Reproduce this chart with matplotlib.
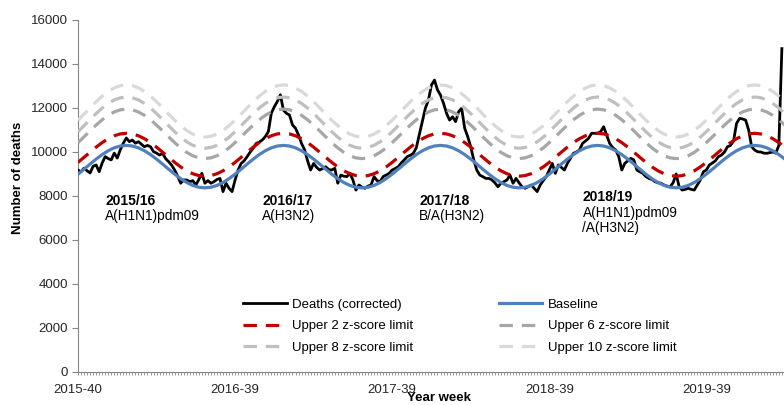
import matplotlib
matplotlib.use("Agg")
import matplotlib.pyplot as plt
from matplotlib.ticker import MultipleLocator

plt.rcParams['font.family'] = ['Liberation Sans', 'DejaVu Sans']

# ---------------- data ----------------
# weekly index 0 = 2015-40
deaths = [
    9180, 9100, 9270, 9150, 9045, 9350, 9410, 9105, 9500, 9790,
    9700, 9640, 9950, 9725, 10100, 10400, 10640, 10470, 10545, 10400,
    10470, 10350, 10240, 10300, 10240, 10015, 9950, 9860, 9940, 9700,
    9560, 9400, 9180, 8900, 8580, 8730, 8730, 8650, 8700, 8500,
    8750, 9030, 8580, 8700, 8580, 8650, 8750, 8800, 8200, 8580,
    8350, 8200, 8730, 9180, 9480, 9600, 9790, 10000, 10170, 10390,
    10450, 10545, 10700, 10920, 11760, 12060, 12300, 12600, 11900, 11760,
    11680, 11230, 11080, 10770, 10390, 10100, 9600, 9180, 9480, 9300,
    9180, 9250, 9330, 9200, 9180, 9260, 8580, 8950, 8900, 8880,
    9030, 8730, 8270, 8500, 8400, 8350, 8450, 8500, 8880, 8700,
    8650, 8880, 8950, 9030, 9180, 9250, 9330, 9500, 9640, 9790,
    9850, 9940, 10200, 10800, 11400, 12000, 12360, 13045, 13270, 12820,
    12590, 12210, 11760, 11450, 11600, 11380, 11830, 11990, 11080, 10700,
    10240, 9640, 9180, 8950, 8880, 8800, 8800, 8730, 8600, 8420,
    8580, 8650, 8730, 8950, 8580, 8800, 8600, 8420, 8350, 8420,
    8500, 8350, 8200, 8500, 8700, 8880, 9180, 9480, 9030, 9410,
    9300, 9180, 9480, 9710, 9940, 10000, 10090, 10390, 10500, 10620,
    10850, 10850, 10850, 10920, 11150, 10770, 10390, 10200, 10090, 9790,
    9180, 9480, 9600, 9710, 9640, 9180, 9100, 9030, 8880, 8800,
    8750, 8650, 8600, 8580, 8500, 8450, 8420, 8600, 9000, 8420,
    8270, 8300, 8350, 8300, 8270, 8500, 8730, 9100, 9180, 9410,
    9500, 9600, 9790, 9860, 10000, 10240, 10300, 10500, 11300, 11530,
    11500, 11450, 11000, 10240, 10090, 10010, 10000, 9950, 9940, 9970,
    10000, 9950, 10300, 14700,
]
weeks = list(range(len(deaths)))

# smooth series sampled every second week (index 0, 2, 4, ...)
smooth_weeks = list(range(0, 236, 2))
baseline = [
    8993, 9219, 9451, 9677, 9883, 10057, 10190, 10272, 10300, 10272, 10190, 10057, 9883,
    9677, 9451, 9219, 8993, 8787, 8613, 8480, 8398, 8370, 8398, 8480, 8613, 8787,
    8993, 9219, 9451, 9677, 9883, 10057, 10190, 10272, 10300, 10272, 10190, 10057, 9883,
    9677, 9451, 9219, 8993, 8787, 8613, 8480, 8398, 8370, 8398, 8480, 8613, 8787,
    8993, 9219, 9451, 9677, 9883, 10057, 10190, 10272, 10300, 10272, 10190, 10057, 9883,
    9677, 9451, 9219, 8993, 8787, 8613, 8480, 8398, 8370, 8398, 8480, 8613, 8787,
    8993, 9219, 9451, 9677, 9883, 10057, 10190, 10272, 10300, 10272, 10190, 10057, 9883,
    9677, 9451, 9219, 8993, 8787, 8613, 8480, 8398, 8370, 8398, 8480, 8613, 8787,
    8993, 9219, 9451, 9677, 9883, 10057, 10190, 10272, 10300, 10272, 10190, 10057, 9883,
    9677,
]
upper2 = [
    9529, 9758, 9992, 10221, 10429, 10605, 10738, 10822, 10850, 10822, 10738, 10605, 10429,
    10221, 9992, 9758, 9529, 9321, 9145, 9012, 8928, 8900, 8928, 9012, 9145, 9321,
    9529, 9758, 9992, 10221, 10429, 10605, 10738, 10822, 10850, 10822, 10738, 10605, 10429,
    10221, 9992, 9758, 9529, 9321, 9145, 9012, 8928, 8900, 8928, 9012, 9145, 9321,
    9529, 9758, 9992, 10221, 10429, 10605, 10738, 10822, 10850, 10822, 10738, 10605, 10429,
    10221, 9992, 9758, 9529, 9321, 9145, 9012, 8928, 8900, 8928, 9012, 9145, 9321,
    9529, 9758, 9992, 10221, 10429, 10605, 10738, 10822, 10850, 10822, 10738, 10605, 10429,
    10221, 9992, 9758, 9529, 9321, 9145, 9012, 8928, 8900, 8928, 9012, 9145, 9321,
    9529, 9758, 9992, 10221, 10429, 10605, 10738, 10822, 10850, 10822, 10738, 10605, 10429,
    10221,
]
upper6 = [
    10426, 10689, 10961, 11224, 11464, 11667, 11821, 11917, 11950, 11917, 11821, 11667, 11464,
    11224, 10961, 10689, 10426, 10186, 9983, 9829, 9733, 9700, 9733, 9829, 9983, 10186,
    10426, 10689, 10961, 11224, 11464, 11667, 11821, 11917, 11950, 11917, 11821, 11667, 11464,
    11224, 10961, 10689, 10426, 10186, 9983, 9829, 9733, 9700, 9733, 9829, 9983, 10186,
    10426, 10689, 10961, 11224, 11464, 11667, 11821, 11917, 11950, 11917, 11821, 11667, 11464,
    11224, 10961, 10689, 10426, 10186, 9983, 9829, 9733, 9700, 9733, 9829, 9983, 10186,
    10426, 10689, 10961, 11224, 11464, 11667, 11821, 11917, 11950, 11917, 11821, 11667, 11464,
    11224, 10961, 10689, 10426, 10186, 9983, 9829, 9733, 9700, 9733, 9829, 9983, 10186,
    10426, 10689, 10961, 11224, 11464, 11667, 11821, 11917, 11950, 11917, 11821, 11667, 11464,
    11224,
]
upper8 = [
    10922, 11195, 11475, 11748, 11997, 12207, 12367, 12466, 12500, 12466, 12367, 12207, 11997,
    11748, 11475, 11195, 10922, 10673, 10463, 10303, 10204, 10170, 10204, 10303, 10463, 10673,
    10922, 11195, 11475, 11748, 11997, 12207, 12367, 12466, 12500, 12466, 12367, 12207, 11997,
    11748, 11475, 11195, 10922, 10673, 10463, 10303, 10204, 10170, 10204, 10303, 10463, 10673,
    10922, 11195, 11475, 11748, 11997, 12207, 12367, 12466, 12500, 12466, 12367, 12207, 11997,
    11748, 11475, 11195, 10922, 10673, 10463, 10303, 10204, 10170, 10204, 10303, 10463, 10673,
    10922, 11195, 11475, 11748, 11997, 12207, 12367, 12466, 12500, 12466, 12367, 12207, 11997,
    11748, 11475, 11195, 10922, 10673, 10463, 10303, 10204, 10170, 10204, 10303, 10463, 10673,
    10922, 11195, 11475, 11748, 11997, 12207, 12367, 12466, 12500, 12466, 12367, 12207, 11997,
    11748,
]
upper10 = [
    11445, 11722, 12008, 12285, 12538, 12752, 12914, 13016, 13050, 13016, 12914, 12752, 12538,
    12285, 12008, 11722, 11445, 11196, 10978, 10814, 10716, 10680, 10716, 10814, 10978, 11196,
    11445, 11722, 12008, 12285, 12538, 12752, 12914, 13016, 13050, 13016, 12914, 12752, 12538,
    12285, 12008, 11722, 11445, 11196, 10978, 10814, 10716, 10680, 10716, 10814, 10978, 11196,
    11445, 11722, 12008, 12285, 12538, 12752, 12914, 13016, 13050, 13016, 12914, 12752, 12538,
    12285, 12008, 11722, 11445, 11196, 10978, 10814, 10716, 10680, 10716, 10814, 10978, 11196,
    11445, 11722, 12008, 12285, 12538, 12752, 12914, 13016, 13050, 13016, 12914, 12752, 12538,
    12285, 12008, 11722, 11445, 11196, 10978, 10814, 10716, 10680, 10716, 10814, 10978, 11196,
    11445, 11722, 12008, 12285, 12538, 12752, 12914, 13016, 13050, 13016, 12914, 12752, 12538,
    12285,
]

tick_weeks = [0, 52, 104, 156, 208]
tick_labels = ["2015-40", "2016-39", "2017-39", "2018-39", "2019-39"]

seasons = [
    (9, ["2015/16", "A(H1N1)pdm09"], 7770),
    (61, ["2016/17", "A(H3N2)"], 7770),
    (113, ["2017/18", "B/A(H3N2)"], 7770),
    (167, ["2018/19", "A(H1N1)pdm09", "/A(H3N2)"], 7950),
]

# ---------------- figure ----------------
fig = plt.figure(figsize=(7.84, 4.05), dpi=100)
ax = fig.add_axes([78 / 784, 33 / 405, (800 - 78) / 784, 352 / 405])

h_deaths, = ax.plot(weeks, deaths, color="black", lw=2.0, label="Deaths (corrected)", zorder=3)
h_base, = ax.plot(smooth_weeks, baseline, color="#4f81bd", lw=2.3, label="Baseline", zorder=4)
h_u2, = ax.plot(smooth_weeks, upper2, color="#c00000", lw=2.3, dashes=(4.2, 2.8),
                label="Upper 2 z-score limit", zorder=5)
h_u6, = ax.plot(smooth_weeks, upper6, color="#a6a6a6", lw=2.3, dashes=(4.2, 2.8),
                label="Upper 6 z-score limit", zorder=5)
h_u8, = ax.plot(smooth_weeks, upper8, color="#bfbfbf", lw=2.3, dashes=(4.2, 2.8),
                label="Upper 8 z-score limit", zorder=5)
h_u10, = ax.plot(smooth_weeks, upper10, color="#d9d9d9", lw=2.3, dashes=(4.2, 2.8),
                 label="Upper 10 z-score limit", zorder=5)

ax.set_xlim(0, 239)
ax.set_ylim(0, 16000)
ax.set_yticks(range(0, 16001, 2000))
ax.set_xticks(tick_weeks)
ax.set_xticklabels(tick_labels)
ax.xaxis.set_minor_locator(MultipleLocator(1))

for s in ["top", "right"]:
    ax.spines[s].set_visible(False)
for s in ["left", "bottom"]:
    ax.spines[s].set_color("#868686")
    ax.spines[s].set_linewidth(0.8)

ax.tick_params(axis="y", which="major", direction="out", length=4, width=0.8,
               color="#868686", labelsize=9.5, labelcolor="#262626", pad=3)
ax.tick_params(axis="x", which="both", direction="out", length=2.5, width=0.6,
               color="#868686", labelsize=9.5, labelcolor="#262626", pad=6)

for x, lines, y in seasons:
    for i, t in enumerate(lines):
        ax.text(x, y - i * 700, t, fontsize=10 if i == 0 else 9.8, ha="left", va="center",
                fontweight="bold" if i == 0 else "normal", color="#000000", zorder=6)

fig.text(18 / 784, 1 - 178 / 405, "Number of deaths", rotation=90, ha="center",
         va="center", fontsize=9.5, fontweight="bold")
fig.text(439 / 784, 1 - 398 / 405, "Year week", ha="center", va="center",
         fontsize=9.5, fontweight="bold")

handles = [h_deaths, h_u2, h_u8, h_base, h_u6, h_u10]
leg = ax.legend(handles=handles, ncol=2, loc="upper left",
                bbox_to_anchor=(243 / 784, 1 - 298.5 / 405), bbox_transform=fig.transFigure,
                frameon=False, fontsize=9.5, handlelength=3.3, handletextpad=0.4,
                columnspacing=6.5, labelspacing=0.7, borderpad=0, borderaxespad=0)

fig.savefig("out.png", dpi=100)
